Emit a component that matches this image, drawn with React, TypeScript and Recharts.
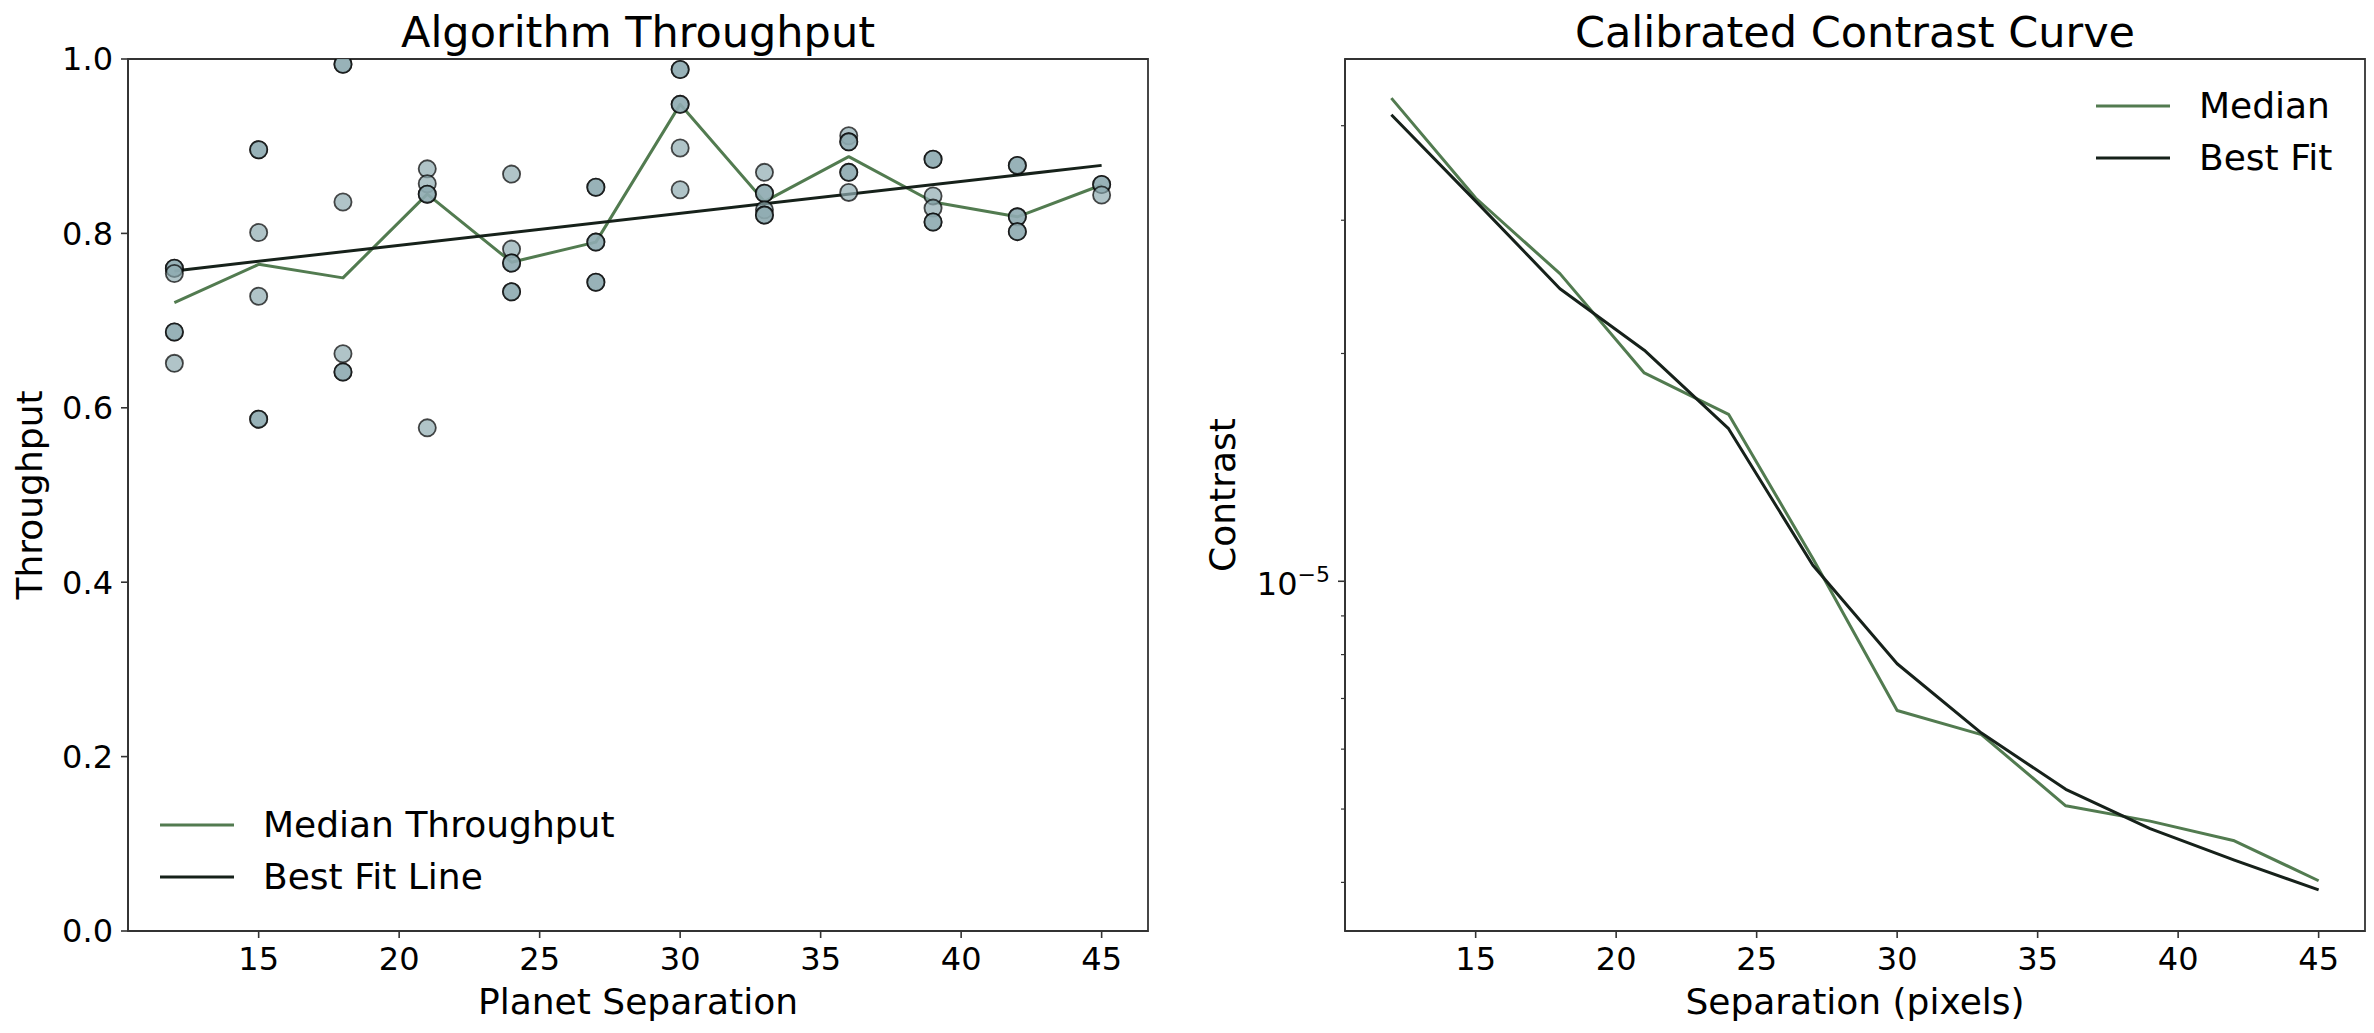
import React from "react";
import {
  ComposedChart,
  Scatter,
  Line,
  XAxis,
  YAxis,
  Legend,
  ReferenceArea,
  Label,
} from "recharts";

// values
const separations = [12, 15, 18, 21, 24, 27, 30, 33, 36, 39, 42, 45];
const throughputTrials = [
  [0.76, 0.76, 0.754, 0.687, 0.687, 0.651],
  [0.896, 0.896, 0.801, 0.728, 0.587, 0.587],
  [0.994, 0.994, 0.836, 0.662, 0.641, 0.641],
  [0.874, 0.857, 0.845, 0.845, 0.577],
  [0.868, 0.782, 0.766, 0.766, 0.733, 0.733],
  [0.853, 0.853, 0.79, 0.79, 0.744, 0.744],
  [0.988, 0.988, 0.948, 0.948, 0.898, 0.85],
  [0.87, 0.846, 0.846, 0.827, 0.821, 0.821],
  [0.912, 0.905, 0.905, 0.87, 0.87, 0.847],
  [0.885, 0.885, 0.843, 0.829, 0.813, 0.813],
  [0.878, 0.878, 0.819, 0.819, 0.802, 0.802],
  [0.856, 0.856, 0.844],
];
const medianThroughput = [0.7205, 0.7645, 0.749, 0.845, 0.767, 0.79, 0.948, 0.8365, 0.888, 0.836, 0.819, 0.8555];
const fitSeparations = [12, 45];
const fitThroughput = [0.757, 0.878];

const contrastMedian = [4.35e-5, 3.21e-5, 2.55e-5, 1.885e-5, 1.662e-5, 1.072e-5, 6.75e-6, 6.27e-6, 5.05e-6, 4.82e-6, 4.54e-6, 4.02e-6];
const contrastFit = [4.135e-5, 3.18e-5, 2.436e-5, 2.02e-5, 1.591e-5, 1.05e-5, 7.78e-6, 6.3e-6, 5.31e-6, 4.71e-6, 4.28e-6, 3.91e-6];

const xTicks = [15, 20, 25, 30, 35, 40, 45];
const throughputTicks = [0, 0.2, 0.4, 0.6, 0.8, 1.0];
const contrastTicks = [4e-6, 5e-6, 6e-6, 7e-6, 8e-6, 9e-6, 1e-5, 2e-5, 3e-5, 4e-5];
const legendOrder = ["Median Throughput", "Best Fit Line", "Median", "Best Fit"];

const X_DOMAIN: [number, number] = [10.35, 46.65];
const C_DOMAIN: [number, number] = [3.45e-6, 4.9e-5];

const GREEN = "#527b50";
const DARK = "#16211a";
const SPINE = "#333333";
const FONT = "DejaVu Sans";

const scatterPoints = separations.flatMap((s, i) =>
  throughputTrials[i].map((v) => ({ x: s, y: v }))
);
const medianPoints = separations.map((s, i) => ({ x: s, y: medianThroughput[i] }));
const fitPoints = fitSeparations.map((s, i) => ({ x: s, y: fitThroughput[i] }));
const contrastMedianPoints = separations.map((s, i) => ({ x: s, y: contrastMedian[i] }));
const contrastFitPoints = separations.map((s, i) => ({ x: s, y: contrastFit[i] }));

const Dot = (props: any) => (
  <circle
    cx={props.cx}
    cy={props.cy}
    r={8.6}
    fill="#8eabb0"
    fillOpacity={0.7}
    stroke="#000"
    strokeOpacity={0.7}
    strokeWidth={1.8}
  />
);

const LegendBox = (props: any) => {
  const items = (props.payload || [])
    .filter((p: any) => p.type !== "none")
    .slice()
    .sort((a: any, b: any) => legendOrder.indexOf(a.value) - legendOrder.indexOf(b.value));
  return (
    <div style={{ fontFamily: FONT }}>
      {items.map((p: any) => (
        <div key={p.value} style={{ display: "flex", alignItems: "center", height: 52 }}>
          <svg width={74} height={10} style={{ display: "block" }}>
            <line x1={0} y1={5} x2={74} y2={5} stroke={p.color} strokeWidth={3} />
          </svg>
          <span style={{ marginLeft: 29, fontSize: 36, color: "#000", lineHeight: "52px", whiteSpace: "nowrap" }}>
            {p.value}
          </span>
        </div>
      ))}
    </div>
  );
};

const ContrastTick = (props: any) => {
  const { x, y, payload } = props;
  const major = payload.value === 1e-5;
  const axisX = x + 15;
  return (
    <g>
      <line
        x1={axisX}
        x2={axisX - (major ? 7 : 4)}
        y1={y}
        y2={y}
        stroke={SPINE}
        strokeWidth={major ? 1.6 : 1.2}
      />
      {major && (
        <text x={x} y={y + 14} textAnchor="end" fontSize={32} fill="#000" fontFamily={FONT}>
          10
          <tspan dy={-13} fontSize={22}>
            −5
          </tspan>
        </text>
      )}
    </g>
  );
};

const xLabel = (text: string) => (p: any) => {
  const vb = p.viewBox;
  return (
    <text x={vb.x + vb.width / 2} y={vb.y + 83} textAnchor="middle" fontSize={36} fill="#000" fontFamily={FONT}>
      {text}
    </text>
  );
};

const yLabel = (text: string, cx: number) => (p: any) => {
  const vb = p.viewBox;
  const cy = vb.y + vb.height / 2;
  return (
    <text
      x={cx}
      y={cy}
      transform={`rotate(-90, ${cx}, ${cy})`}
      textAnchor="middle"
      dominantBaseline="central"
      fontSize={36}
      fill="#000"
      fontFamily={FONT}
    >
      {text}
    </text>
  );
};

const tickStyle = { fontSize: 32, fill: "#000", fontFamily: FONT };

export default function App() {
  return (
    <div style={{ position: "absolute", left: 0, top: 0, width: 2374, height: 1033, background: "#fff", fontFamily: FONT }}>
      <div style={{ position: "absolute", left: 0, top: 0 }}>
        <ComposedChart width={1200} height={1033} margin={{ top: 59, right: 52, bottom: 0, left: 0 }}>
          <XAxis
            type="number"
            dataKey="x"
            domain={X_DOMAIN}
            allowDataOverflow
            ticks={xTicks}
            height={102}
            tick={tickStyle}
            tickSize={7}
            tickMargin={9}
            stroke={SPINE}
            axisLine={{ stroke: SPINE, strokeWidth: 1.8 }}
            tickLine={{ stroke: SPINE, strokeWidth: 1.6 }}
          >
            <Label content={xLabel("Planet Separation")} />
          </XAxis>
          <YAxis
            type="number"
            dataKey="y"
            domain={[0, 1]}
            allowDataOverflow
            ticks={throughputTicks}
            tickFormatter={(v: number) => v.toFixed(1)}
            width={128}
            tick={tickStyle}
            tickSize={7}
            tickMargin={8}
            stroke={SPINE}
            axisLine={{ stroke: SPINE, strokeWidth: 1.8 }}
            tickLine={{ stroke: SPINE, strokeWidth: 1.6 }}
          >
            <Label content={yLabel("Throughput", 29)} />
          </YAxis>
          <ReferenceArea x1={X_DOMAIN[0]} x2={X_DOMAIN[1]} y1={0} y2={1} fill="none" stroke={SPINE} strokeWidth={1.8} />
          <Scatter data={scatterPoints} dataKey="y" shape={Dot} legendType="none" isAnimationActive={false} />
          <Line
            data={medianPoints}
            dataKey="y"
            name="Median Throughput"
            stroke={GREEN}
            strokeWidth={3}
            strokeLinejoin="round"
            dot={false}
            activeDot={false}
            isAnimationActive={false}
          />
          <Line
            data={fitPoints}
            dataKey="y"
            name="Best Fit Line"
            stroke={DARK}
            strokeWidth={3}
            dot={false}
            activeDot={false}
            isAnimationActive={false}
          />
          <Legend
            layout="vertical"
            align="center"
            verticalAlign="middle"
            content={LegendBox}
            wrapperStyle={{ left: 160, top: 799, width: 600 }}
          />
          <text x={638} y={47} textAnchor="middle" fontSize={43} fill="#000" fontFamily={FONT}>
            Algorithm Throughput
          </text>
        </ComposedChart>
      </div>
      <div style={{ position: "absolute", left: 1200, top: 0 }}>
        <ComposedChart width={1174} height={1033} margin={{ top: 59, right: 9, bottom: 0, left: 0 }}>
          <XAxis
            type="number"
            dataKey="x"
            domain={X_DOMAIN}
            allowDataOverflow
            ticks={xTicks}
            height={102}
            tick={tickStyle}
            tickSize={7}
            tickMargin={9}
            stroke={SPINE}
            axisLine={{ stroke: SPINE, strokeWidth: 1.8 }}
            tickLine={{ stroke: SPINE, strokeWidth: 1.6 }}
          >
            <Label content={xLabel("Separation (pixels)")} />
          </XAxis>
          <YAxis
            type="number"
            dataKey="y"
            scale="log"
            domain={C_DOMAIN}
            allowDataOverflow
            ticks={contrastTicks}
            interval={0}
            width={145}
            tick={<ContrastTick />}
            tickSize={7}
            tickMargin={8}
            tickLine={false}
            axisLine={{ stroke: SPINE, strokeWidth: 1.8 }}
          >
            <Label content={yLabel("Contrast", 22)} />
          </YAxis>
          <ReferenceArea x1={X_DOMAIN[0]} x2={X_DOMAIN[1]} y1={C_DOMAIN[0]} y2={C_DOMAIN[1]} fill="none" stroke={SPINE} strokeWidth={1.8} />
          <Line
            data={contrastMedianPoints}
            dataKey="y"
            name="Median"
            stroke={GREEN}
            strokeWidth={3}
            strokeLinejoin="round"
            dot={false}
            activeDot={false}
            isAnimationActive={false}
          />
          <Line
            data={contrastFitPoints}
            dataKey="y"
            name="Best Fit"
            stroke={DARK}
            strokeWidth={3}
            strokeLinejoin="round"
            dot={false}
            activeDot={false}
            isAnimationActive={false}
          />
          <Legend
            layout="vertical"
            align="center"
            verticalAlign="middle"
            content={LegendBox}
            wrapperStyle={{ left: 896, top: 80, width: 270 }}
          />
          <text x={655} y={47} textAnchor="middle" fontSize={43} fill="#000" fontFamily={FONT}>
            Calibrated Contrast Curve
          </text>
        </ComposedChart>
      </div>
    </div>
  );
}
